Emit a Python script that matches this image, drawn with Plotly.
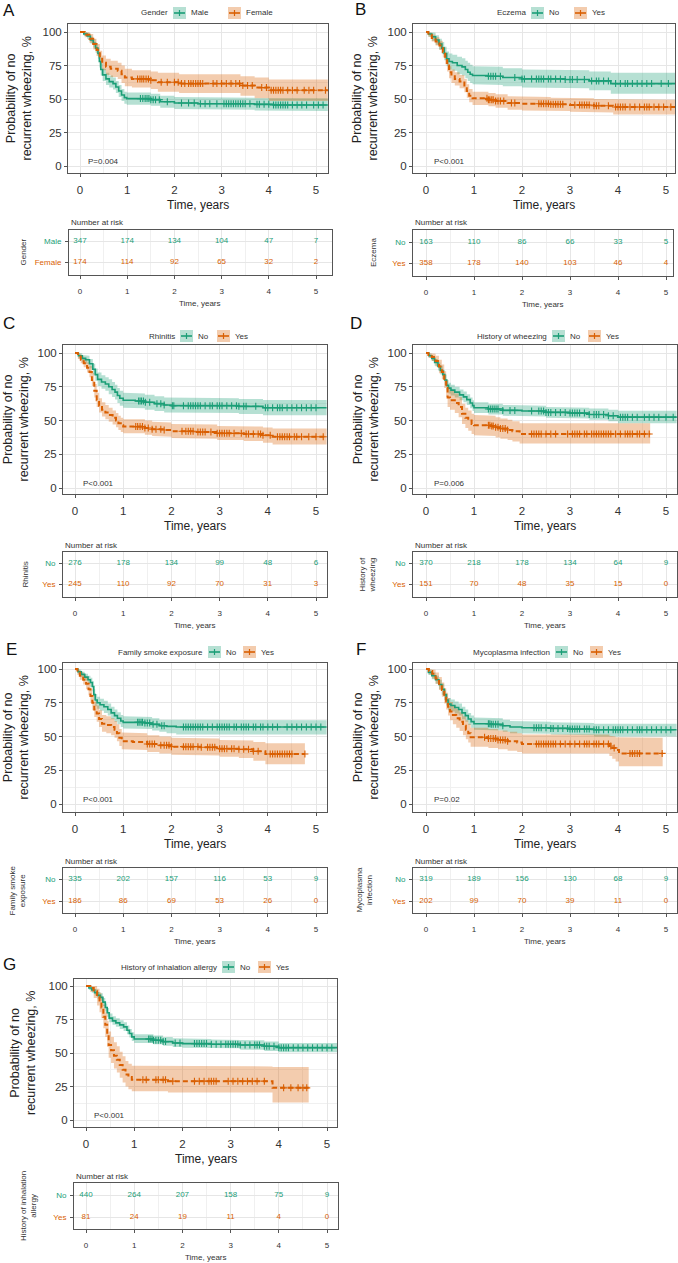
import plotly.graph_objects as go

# ======================= DATA =======================
TIME_TICKS = [0, 1, 2, 3, 4, 5]
SURV_TICKS = [0, 25, 50, 75, 100]

# ---- A: Gender ----
A_var = "Gender"; A_labels = ["Male", "Female"]; A_p = "P=0.004"
A_g1_t = [0, 0.08, 0.15, 0.22, 0.28, 0.33, 0.38, 0.41, 0.44, 0.48, 0.55, 0.62, 0.7, 0.76, 0.82, 0.88, 0.94, 0.99, 1.5, 1.7, 2.0, 2.5, 3.7, 4.1]
A_g1_s = [100, 98.5, 97, 94, 91.5, 88, 84, 78, 72, 68, 65, 63, 61.5, 59, 56, 53, 51, 50.3, 49.5, 48, 47, 46.5, 46, 45.5]
A_g1_lo = [100, 97, 95, 91.5, 88.5, 84.5, 80, 73.5, 67.5, 63.5, 60.5, 58.5, 57, 54.5, 51.5, 48.5, 46.5, 45.8, 45, 43.5, 42.5, 42, 41.5, 41]
A_g1_hi = [100, 99.8, 99, 96.5, 94.5, 91.5, 88, 82.5, 76.5, 72.5, 69.5, 67.5, 66, 63.5, 60.5, 57.5, 55.5, 54.8, 54, 52.5, 51.5, 51, 50.8, 50.5]
A_g1_end = 5.25
A_g1_cens = [1.28, 1.33, 1.38, 1.42, 1.46, 1.5, 1.55, 1.6, 1.68, 1.85, 2.15, 2.3, 2.42, 2.55, 2.65, 2.75, 2.9, 3.05, 3.1, 3.15, 3.2, 3.25, 3.3, 3.35, 3.4, 3.45, 3.5, 3.6, 3.75, 3.8, 3.9, 4.0, 4.1, 4.15, 4.2, 4.25, 4.3, 4.35, 4.4, 4.5, 4.6, 4.7, 4.8, 4.95, 5.05, 5.15]
A_g2_t = [0, 0.1, 0.2, 0.28, 0.35, 0.42, 0.47, 0.55, 0.65, 0.8, 0.88, 0.95, 1.1, 1.5, 1.65, 2.1, 3.4, 3.7, 4.0]
A_g2_s = [100, 98, 95, 91, 86.5, 81, 77, 74, 72.5, 71, 68.5, 66, 65, 64, 62.5, 61.5, 60, 58.5, 56.5]
A_g2_lo = [100, 96, 92, 87, 82, 76, 71.5, 68, 66.5, 65, 62, 59.5, 58.5, 57.5, 55.5, 54.5, 52.5, 50.5, 48.5]
A_g2_hi = [100, 99.8, 98.5, 95, 91, 86, 82.5, 80, 78.5, 77, 75, 72.5, 71.5, 70.5, 69.5, 68.5, 67, 66, 64.5]
A_g2_end = 5.25
A_g2_cens = [1.22, 1.27, 1.31, 1.35, 1.4, 1.45, 1.5, 1.72, 1.85, 2.0, 2.08, 2.15, 2.22, 2.3, 2.35, 2.4, 2.45, 2.5, 2.55, 2.6, 2.82, 2.9, 3.0, 3.1, 3.2, 3.3, 3.38, 3.45, 3.55, 3.65, 3.85, 3.95, 4.05, 4.1, 4.15, 4.2, 4.25, 4.3, 4.4, 4.5, 4.6, 4.75, 4.85, 4.95, 5.2]
A_risk1 = [347, 174, 134, 104, 47, 7]
A_risk2 = [174, 114, 92, 65, 32, 2]

# ---- B: Eczema ----
B_var = "Eczema"; B_labels = ["No", "Yes"]; B_p = "P<0.001"
B_g1_t = [0, 0.05, 0.12, 0.2, 0.27, 0.33, 0.38, 0.43, 0.48, 0.55, 0.65, 0.75, 0.82, 0.87, 0.92, 0.97, 1.3, 1.6, 2.0, 2.9, 3.4, 3.85]
B_g1_s = [100, 98.5, 96.5, 94, 91, 88, 84, 80, 78, 77, 75, 74, 72, 70, 68.5, 67.5, 67, 66, 65, 64.5, 63.5, 61.5]
B_g1_lo = [100, 96.5, 93.5, 90.5, 87, 83.5, 79, 74.5, 72, 71, 68.5, 67.5, 65.5, 63.5, 62, 61, 60.5, 59.5, 58.5, 58, 56.5, 54]
B_g1_hi = [100, 100, 99.5, 97.5, 95, 92.5, 89, 85.5, 84, 83, 81.5, 80.5, 78.5, 77, 75.5, 74.5, 74, 73, 72, 71.5, 70.5, 69.5]
B_g1_end = 5.19
B_g1_cens = [1.3, 1.35, 1.4, 1.45, 1.55, 1.85, 2.0, 2.05, 2.2, 2.3, 2.35, 2.4, 2.45, 2.55, 2.6, 2.7, 2.8, 2.9, 3.0, 3.05, 3.15, 3.3, 3.45, 3.55, 3.6, 3.7, 3.8, 3.95, 4.05, 4.15, 4.2, 4.3, 4.4, 4.5, 4.6, 4.7, 4.9, 5.05]
B_g2_t = [0, 0.05, 0.12, 0.2, 0.28, 0.35, 0.4, 0.44, 0.48, 0.53, 0.6, 0.7, 0.8, 0.85, 0.9, 0.97, 1.3, 1.45, 1.7, 2.0, 2.6, 3.0, 3.5, 3.9]
B_g2_s = [100, 98, 95.5, 93, 90, 85, 80, 75, 70, 67, 65, 63, 60, 56, 52.5, 50.5, 49.5, 48.5, 47, 46.5, 46, 45.5, 45, 44]
B_g2_lo = [100, 96.5, 93, 90, 86.5, 81, 76, 70.5, 65.5, 62, 60, 58, 55, 51, 47.5, 45.5, 44.5, 43.5, 42, 41.5, 41, 40.5, 40, 38.5]
B_g2_hi = [100, 99.5, 98, 96, 93.5, 89, 84.5, 79.5, 74.5, 72, 70, 68, 65, 61, 57.5, 55.5, 54.5, 53.5, 52, 51.5, 51, 50.5, 50, 49.5]
B_g2_end = 5.19
B_g2_cens = [1.27, 1.3, 1.33, 1.37, 1.4, 1.45, 1.5, 1.55, 1.62, 1.78, 1.85, 2.35, 2.4, 2.45, 2.5, 2.55, 2.6, 2.65, 2.7, 2.75, 2.8, 2.85, 3.1, 3.2, 3.25, 3.3, 3.35, 3.4, 3.5, 3.55, 3.6, 3.8, 3.95, 4.0, 4.05, 4.1, 4.15, 4.25, 4.35, 4.45, 4.55, 4.6, 4.65, 4.75, 4.85, 4.95, 5.1]
B_risk1 = [163, 110, 86, 66, 33, 5]
B_risk2 = [358, 178, 140, 103, 46, 4]

# ---- C: Rhinitis ----
C_var = "Rhinitis"; C_labels = ["No", "Yes"]; C_p = "P<0.001"
C_g1_t = [0, 0.07, 0.15, 0.22, 0.3, 0.37, 0.42, 0.47, 0.55, 0.63, 0.7, 0.77, 0.83, 0.88, 0.93, 1.0, 1.25, 1.45, 1.65, 1.85, 2.0, 3.4, 3.9]
C_g1_s = [100, 98, 96, 95, 92, 88, 84, 80.5, 78.5, 77, 75, 73, 71, 68.5, 66.5, 65, 64.5, 63.5, 62.5, 61.5, 61, 60.5, 59.5]
C_g1_lo = [100, 96, 93.5, 92, 88.5, 84, 79.5, 75.5, 73.5, 72, 69.5, 67.5, 65.5, 63, 61, 59.5, 59, 58, 57, 56, 55.5, 54.8, 53.8]
C_g1_hi = [100, 99.8, 98.5, 98, 95.5, 92, 88.5, 85.5, 83.5, 82, 80.5, 78.5, 76.5, 74, 72, 70.5, 70, 69, 68, 67, 66.5, 66, 65.2]
C_g1_end = 5.22
C_g1_cens = [1.32, 1.35, 1.38, 1.42, 1.46, 1.55, 1.7, 1.78, 1.85, 2.02, 2.05, 2.25, 2.35, 2.4, 2.45, 2.5, 2.55, 2.6, 2.7, 2.8, 2.85, 2.95, 3.0, 3.05, 3.15, 3.25, 3.35, 3.4, 3.5, 3.55, 3.75, 3.95, 4.0, 4.1, 4.2, 4.25, 4.3, 4.4, 4.5, 4.6, 4.7, 4.8, 4.9, 5.0]
C_g2_t = [0, 0.06, 0.12, 0.18, 0.25, 0.3, 0.35, 0.4, 0.45, 0.5, 0.56, 0.63, 0.7, 0.78, 0.85, 0.9, 0.95, 1.0, 1.45, 1.6, 1.85, 2.0, 2.5, 2.95, 3.5, 3.9, 4.1]
C_g2_s = [100, 97.5, 95, 92.5, 89, 86, 80, 72, 65, 61, 58, 56, 54, 52, 50, 48, 46.5, 45.5, 44.5, 43.5, 43, 42, 41.5, 40.5, 40, 39, 38]
C_g2_lo = [100, 95.5, 92.5, 89.5, 85.5, 82, 75.5, 67, 60, 56, 53, 51, 49, 47, 45, 43, 41.5, 40.5, 39.5, 38.5, 38, 37, 36.5, 35.5, 34.8, 33.5, 32.3]
C_g2_hi = [100, 99.5, 98, 96, 93, 90.5, 85, 77, 70.5, 66.5, 63.5, 61.5, 59.5, 57.5, 55.5, 53.5, 52, 51, 50, 49, 48.5, 47.5, 47, 46, 45.5, 44.8, 44]
C_g2_end = 5.22
C_g2_cens = [1.26, 1.3, 1.35, 1.4, 1.45, 1.52, 1.6, 1.68, 1.78, 1.85, 2.22, 2.3, 2.35, 2.4, 2.45, 2.55, 2.6, 2.65, 2.7, 2.82, 2.95, 3.0, 3.05, 3.1, 3.15, 3.2, 3.3, 3.45, 3.55, 3.6, 3.7, 3.8, 3.85, 3.9, 4.05, 4.2, 4.25, 4.3, 4.35, 4.4, 4.45, 4.55, 4.6, 4.7, 4.85, 5.0, 5.15]
C_risk1 = [276, 178, 134, 99, 48, 6]
C_risk2 = [245, 110, 92, 70, 31, 3]

# ---- D: History of wheezing ----
D_var = "History of wheezing"; D_labels = ["No", "Yes"]; D_p = "P=0.006"
D_g1_t = [0, 0.06, 0.12, 0.18, 0.25, 0.3, 0.35, 0.39, 0.43, 0.47, 0.52, 0.6, 0.7, 0.78, 0.85, 0.92, 0.97, 1.0, 1.3, 1.6, 2.0, 2.5, 3.0, 3.4, 3.8, 4.0]
D_g1_s = [100, 98, 96, 93, 90, 87, 84, 80, 76, 74, 72.5, 71, 69, 67.5, 65.5, 63, 61, 59.5, 58.5, 57.5, 57, 56, 55.5, 54.5, 53.5, 52.5]
D_g1_lo = [100, 96.5, 94, 90.5, 87, 84, 80.5, 76.5, 72.5, 70, 68.5, 67, 65, 63.5, 61.5, 59, 57, 55.5, 54.5, 53.5, 53, 52, 51.5, 50.5, 49.5, 48]
D_g1_hi = [100, 99.5, 98, 95.5, 93, 90.5, 87.5, 84, 80, 78, 76.5, 75, 73, 71.5, 69.5, 67, 65, 63.5, 62.5, 61.5, 61, 60, 59.5, 58.8, 58, 57.2]
D_g1_end = 5.22
D_g1_cens = [1.3, 1.34, 1.38, 1.42, 1.46, 1.5, 1.6, 1.75, 1.85, 2.2, 2.35, 2.4, 2.45, 2.5, 2.55, 2.6, 2.7, 2.8, 2.9, 3.0, 3.05, 3.1, 3.15, 3.2, 3.3, 3.4, 3.5, 3.55, 3.6, 3.7, 3.8, 3.9, 4.05, 4.1, 4.15, 4.2, 4.3, 4.4, 4.55, 4.65, 4.75, 4.85, 5.0, 5.15]
D_g2_t = [0, 0.05, 0.12, 0.2, 0.27, 0.33, 0.38, 0.42, 0.45, 0.5, 0.6, 0.68, 0.75, 0.82, 0.88, 0.95, 1.0, 1.35, 1.45, 1.55, 1.7, 1.8, 1.95]
D_g2_s = [100, 98.5, 97, 94, 90, 86, 80, 74, 67, 65, 63, 60, 55, 52, 50, 47.5, 46.5, 46, 45, 44, 43, 42, 40]
D_g2_lo = [100, 96.5, 94, 90, 85, 80.5, 74, 67.5, 60, 58, 55.5, 52.5, 47.5, 44.5, 42.5, 40, 39, 38.5, 37.5, 36.5, 35.5, 34.5, 33]
D_g2_hi = [100, 100, 99.5, 98, 95, 91.5, 86.5, 80.5, 74, 72, 70, 67.5, 62.5, 59.5, 57.5, 55, 54, 53.5, 52.5, 51.5, 50.5, 49.5, 48]
D_g2_end = 4.67
D_g2_cens = [1.3, 1.33, 1.37, 1.4, 1.45, 1.5, 1.55, 1.6, 1.65, 1.7, 2.2, 2.25, 2.3, 2.35, 2.4, 2.5, 2.6, 2.7, 2.95, 3.05, 3.1, 3.15, 3.2, 3.3, 3.35, 3.45, 3.5, 3.55, 3.6, 3.65, 3.7, 3.75, 3.8, 3.85, 3.95, 4.05, 4.15, 4.2, 4.25, 4.3, 4.4, 4.45, 4.55, 4.65]
D_risk1 = [370, 218, 178, 134, 64, 9]
D_risk2 = [151, 70, 48, 35, 15, 0]

# ---- E: Family smoke exposure ----
E_var = "Family smoke exposure"; E_labels = ["No", "Yes"]; E_p = "P<0.001"
E_g1_t = [0, 0.06, 0.13, 0.2, 0.27, 0.32, 0.36, 0.39, 0.42, 0.46, 0.52, 0.6, 0.68, 0.75, 0.82, 0.88, 0.95, 1.0, 1.45, 1.6, 1.75, 1.9, 2.1]
E_g1_s = [100, 98, 96, 94, 92, 90, 87, 81, 77, 75, 73.5, 72, 70, 67.5, 65.5, 63.5, 61.5, 60.5, 60, 59, 58, 57.5, 57]
E_g1_lo = [100, 96.5, 94, 91.5, 89, 86.5, 83.5, 77, 72.5, 70.5, 69, 67.5, 65.5, 63, 61, 59, 57, 56, 55.5, 54.5, 53.5, 52.5, 51.5]
E_g1_hi = [100, 99.5, 98, 96.5, 95, 93.5, 91, 85, 81.5, 79.5, 78, 76.5, 74.5, 72, 70, 68, 66, 65, 64.5, 63.5, 62.5, 62, 62]
E_g1_end = 5.22
E_g1_cens = [1.3, 1.33, 1.37, 1.4, 1.45, 1.5, 1.55, 1.62, 1.7, 1.8, 1.85, 2.25, 2.3, 2.35, 2.4, 2.45, 2.5, 2.55, 2.6, 2.65, 2.75, 2.85, 2.95, 3.0, 3.05, 3.1, 3.15, 3.2, 3.3, 3.35, 3.45, 3.5, 3.55, 3.6, 3.7, 3.75, 3.85, 3.9, 4.0, 4.1, 4.2, 4.4, 4.5, 4.6, 4.7, 4.8, 4.9, 5.0, 5.1]
E_g2_t = [0, 0.05, 0.1, 0.17, 0.23, 0.28, 0.32, 0.36, 0.4, 0.45, 0.5, 0.56, 0.65, 0.75, 0.82, 0.87, 0.92, 0.97, 1.2, 1.5, 1.75, 2.0, 2.6, 3.0, 3.4, 3.7, 3.95]
E_g2_s = [100, 97.5, 95, 92, 89, 85, 80, 75, 70, 67, 63, 59.5, 58.5, 57, 55, 52.5, 49, 46.5, 46, 44.5, 43.5, 42.5, 42, 41, 40.5, 39, 37]
E_g2_lo = [100, 95.5, 92, 88.5, 85, 80.5, 75, 69.5, 64.5, 61, 57, 53.5, 52.5, 51, 49, 46.5, 43, 40.5, 40, 38.5, 37.5, 36.5, 36, 35, 34, 32, 29.5]
E_g2_hi = [100, 99.5, 98, 96, 93.5, 90, 85.5, 81, 76, 73, 69.5, 66, 65, 63.5, 61.5, 59, 55.5, 53, 52.5, 51, 50, 49, 48.5, 47.5, 47, 46, 45]
E_g2_end = 4.77
E_g2_cens = [1.5, 1.55, 1.6, 1.65, 1.78, 1.85, 1.9, 1.95, 2.0, 2.25, 2.3, 2.35, 2.4, 2.45, 2.55, 2.62, 2.75, 2.8, 2.85, 2.9, 3.0, 3.05, 3.1, 3.15, 3.25, 3.3, 3.4, 3.5, 3.6, 3.7, 3.8, 4.05, 4.1, 4.15, 4.2, 4.25, 4.3, 4.35, 4.4, 4.45, 4.5, 4.77]
E_risk1 = [335, 202, 157, 116, 53, 9]
E_risk2 = [186, 86, 69, 53, 26, 0]

# ---- F: Mycoplasma infection ----
F_var = "Mycoplasma infection"; F_labels = ["No", "Yes"]; F_p = "P=0.02"
F_g1_t = [0, 0.05, 0.12, 0.2, 0.27, 0.33, 0.38, 0.42, 0.46, 0.52, 0.6, 0.68, 0.75, 0.82, 0.88, 0.94, 1.0, 1.35, 1.6, 1.75, 2.0, 2.6, 3.0, 3.5]
F_g1_s = [100, 97.5, 95, 92, 88.5, 85, 81, 77, 74, 73, 71.5, 70, 67.5, 65.5, 63, 61, 59.5, 59, 58, 57, 56.5, 56, 55.5, 55]
F_g1_lo = [100, 95.5, 92.5, 89, 85, 81, 77, 73, 69.5, 68.5, 67, 65.5, 63, 61, 58.5, 56.5, 55, 54.5, 53.5, 52.5, 52, 51.5, 51, 50]
F_g1_hi = [100, 99.5, 97.5, 95, 92, 89, 85, 81.5, 78.5, 77.5, 76, 74.5, 72, 70, 67.5, 65.5, 64, 63.5, 62.5, 61.5, 61, 60.5, 60, 59.5]
F_g1_end = 5.22
F_g1_cens = [1.3, 1.33, 1.36, 1.4, 1.45, 1.5, 1.6, 2.25, 2.3, 2.35, 2.4, 2.5, 2.6, 2.65, 2.75, 2.85, 2.95, 3.0, 3.05, 3.1, 3.15, 3.2, 3.3, 3.35, 3.4, 3.5, 3.55, 3.6, 3.7, 3.8, 3.9, 3.95, 4.0, 4.05, 4.1, 4.2, 4.3, 4.4, 4.45, 4.5, 4.6, 4.7, 4.8, 4.9, 5.0, 5.1]
F_g2_t = [0, 0.06, 0.13, 0.2, 0.27, 0.33, 0.38, 0.42, 0.46, 0.5, 0.56, 0.63, 0.7, 0.77, 0.83, 0.88, 0.93, 1.3, 1.5, 1.7, 1.9, 2.0, 3.82, 3.88, 3.95, 4.02]
F_g2_s = [100, 98.5, 96.5, 93, 89, 84.5, 80, 76, 72, 68.5, 66, 63.5, 61, 58, 55, 52.5, 49.5, 48.5, 47.5, 46.5, 45.5, 44.5, 43, 41.5, 40, 37.5]
F_g2_lo = [100, 96, 93, 89, 84.5, 79.5, 74.5, 70, 65.5, 62, 59, 56.5, 54, 51, 48, 45.5, 42.5, 41.5, 40.5, 39.5, 38.5, 37.5, 35.5, 33.5, 31.5, 28]
F_g2_hi = [100, 100, 99.5, 97.5, 94, 90, 86, 82.5, 78.5, 75.5, 73, 70.5, 68, 65, 62, 59.5, 56.5, 55.5, 54.5, 53.5, 52.5, 51.5, 50.5, 50, 49.5, 49]
F_g2_end = 4.93
F_g2_cens = [1.22, 1.3, 1.35, 1.4, 1.45, 1.5, 1.55, 1.6, 1.65, 1.7, 2.3, 2.35, 2.4, 2.45, 2.5, 2.55, 2.6, 2.65, 2.7, 2.8, 2.9, 3.0, 3.1, 3.2, 3.3, 3.35, 3.4, 3.5, 3.55, 3.6, 3.7, 3.8, 3.85, 3.92, 4.25, 4.3, 4.35, 4.4, 4.45, 4.92]
F_risk1 = [319, 189, 156, 130, 68, 9]
F_risk2 = [202, 99, 70, 39, 11, 0]

# ---- G: History of inhalation allergy ----
G_var = "History of inhalation allergy"; G_labels = ["No", "Yes"]; G_p = "P<0.001"
G_g1_t = [0, 0.06, 0.12, 0.18, 0.24, 0.3, 0.35, 0.4, 0.44, 0.48, 0.55, 0.62, 0.7, 0.78, 0.85, 0.9, 0.95, 1.0, 1.4, 1.6, 1.8, 2.0, 2.6, 3.2, 3.7, 4.0]
G_g1_s = [100, 98.5, 97, 95, 93, 91.5, 88, 84, 80, 76, 74, 72.5, 71, 69.5, 67, 64.5, 62, 60.5, 59.5, 58.5, 57.5, 57, 56.5, 56, 55, 54]
G_g1_lo = [100, 97, 95, 93, 90.5, 89, 85, 81, 77, 73, 71, 69.5, 68, 66.5, 64, 61.5, 59, 57.5, 56.5, 55.5, 54.5, 54, 53.5, 52.5, 51.5, 50.5]
G_g1_hi = [100, 100, 99, 97.5, 95.5, 94.5, 91, 87, 83.5, 79.5, 77.5, 76, 74.5, 73, 70.5, 68, 65.5, 64, 63, 62, 61, 60.5, 60, 59.5, 58.5, 57.5]
G_g1_end = 5.21
G_g1_cens = [1.3, 1.33, 1.37, 1.4, 1.45, 1.5, 1.55, 1.6, 1.65, 1.85, 1.95, 2.25, 2.3, 2.35, 2.4, 2.45, 2.5, 2.6, 2.7, 2.8, 2.9, 2.95, 3.0, 3.05, 3.1, 3.15, 3.2, 3.3, 3.4, 3.5, 3.55, 3.6, 3.7, 3.75, 3.8, 3.9, 4.0, 4.05, 4.1, 4.15, 4.2, 4.3, 4.4, 4.5, 4.6, 4.7, 4.8, 4.9, 5.0, 5.1]
G_g2_t = [0, 0.09, 0.16, 0.23, 0.28, 0.32, 0.36, 0.4, 0.44, 0.47, 0.52, 0.58, 0.64, 0.7, 0.76, 0.82, 0.88, 0.95, 1.7, 3.87]
G_g2_s = [100, 98.5, 96, 92, 88, 84, 77, 71, 64, 56, 52, 48, 45, 41, 37.5, 34, 32, 30, 29, 24]
G_g2_lo = [100, 95.5, 91, 85.5, 80.5, 76, 68.5, 62, 54.5, 46.5, 42.5, 38.5, 35.5, 31.5, 28, 25, 23, 21.5, 20.5, 13]
G_g2_hi = [100, 100, 100, 98, 95, 92, 86, 80.5, 74, 66, 62, 58, 55, 51, 47.5, 44, 42, 40.5, 40, 39.5]
G_g2_end = 4.62
G_g2_cens = [1.18, 1.25, 1.45, 1.5, 1.6, 1.65, 1.8, 2.25, 2.35, 2.45, 2.55, 2.6, 2.65, 2.7, 2.95, 3.05, 3.15, 3.25, 3.35, 3.45, 3.55, 3.7, 4.1, 4.25, 4.4, 4.5, 4.58]
G_risk1 = [440, 264, 207, 158, 75, 9]
G_risk2 = [81, 24, 19, 11, 4, 0]

# risk table y-axis titles
A_rtitle = "Gender"; B_rtitle = "Eczema"; C_rtitle = "Rhinitis"
D_rtitle = "History of<br>wheezing"; E_rtitle = "Family smoke<br>exposure"
F_rtitle = "Mycoplasma<br>infection"; G_rtitle = "History of inhalation<br>allergy"

# ======================= STYLE / LAYOUT =======================
W, H = 678, 1263
GREEN, ORANGE = "#1B9E77", "#D95F02"
FILLS = ["rgba(27,158,119,0.32)", "rgba(217,95,2,0.32)"]
COLS = [GREEN, ORANGE]
FONT = "Liberation Sans, Arial, Helvetica, sans-serif"
TXT = "#333333"
FRAME = "#555555"
GRID = "#E6E6E6"
GRID_MINOR = "#F0F0F0"

# pixel geometry of each panel (layout only)
GEO = {
    "A": dict(L=68, R=328, T=24, B=173, x0=80, x5=316, y100=32, y0=166,
              rL=69, rR=332, rT=230, rB=275, r1=241, r2=262,
              letter=(9, 11), leg=(13, 173, 228), ytx=19, rytx=23),
    "B": dict(L=413, R=675, T=24, B=173, x0=426, x5=666, y100=32, y0=166,
              rL=413, rR=673, rT=230, rB=276, r1=242, r2=263,
              letter=(360, 10), leg=(13, 531, 574), ytx=365, rytx=373),
    "C": dict(L=63, R=327, T=345, B=494, x0=75, x5=316, y100=353, y0=488,
              rL=63, rR=327, rT=552, rB=597, r1=563, r2=584,
              letter=(9, 323), leg=(336, 180, 217), ytx=15, rytx=25),
    "D": dict(L=413, R=677, T=345, B=494, x0=426, x5=666, y100=353, y0=488,
              rL=413, rR=677, rT=552, rB=597, r1=563, r2=584,
              letter=(356, 323), leg=(336, 552, 588), ytx=365, rytx=367),
    "E": dict(L=63, R=327, T=663, B=812, x0=75, x5=316, y100=669, y0=804,
              rL=63, rR=327, rT=868, rB=913, r1=879, r2=901,
              letter=(11, 649), leg=(652, 208, 243), ytx=15, rytx=17),
    "F": dict(L=413, R=677, T=663, B=812, x0=426, x5=666, y100=669, y0=804,
              rL=413, rR=677, rT=868, rB=913, r1=879, r2=901,
              letter=(361, 649), leg=(652, 555, 590), ytx=365, rytx=364),
    "G": dict(L=74, R=337, T=979, B=1127, x0=86, x5=327, y100=986, y0=1120,
              rL=74, rR=338, rT=1183, rB=1229, r1=1195, r2=1217,
              letter=(9, 965), leg=(967, 222, 258), ytx=23, rytx=28),
}

G_ = globals()
PANELS = []
for key in "ABCDEFG":
    PANELS.append(dict(
        key=key, var=G_[key + "_var"], labels=G_[key + "_labels"], p=G_[key + "_p"],
        groups=[dict(t=G_[f"{key}_g{i}_t"], s=G_[f"{key}_g{i}_s"], lo=G_[f"{key}_g{i}_lo"],
                     hi=G_[f"{key}_g{i}_hi"], end=G_[f"{key}_g{i}_end"],
                     cens=G_[f"{key}_g{i}_cens"]) for i in (1, 2)],
        risk=[G_[key + "_risk1"], G_[key + "_risk2"]],
        rtitle=G_[key + "_rtitle"], geo=GEO[key]))


def px(x):
    return x / W


def py(y):
    return 1 - y / H


def stairs(t, v, end):
    xs, ys = [], []
    for i in range(len(t)):
        t1 = t[i + 1] if i + 1 < len(t) else end
        xs += [t[i], t1]
        ys += [v[i], v[i]]
    return xs, ys


def step_at(t, v, x):
    val = v[0]
    for ti, vi in zip(t, v):
        if ti <= x:
            val = vi
    return val


fig = go.Figure()
layout = {}
annotations = []
shapes = []


def axis_common():
    return dict(showline=True, mirror=True, linecolor=FRAME, linewidth=1,
                ticks="outside", ticklen=3, tickcolor=FRAME, tickwidth=1,
                zeroline=False, showgrid=True, gridcolor=GRID, gridwidth=1)


ax = 0
for P in PANELS:
    g = P["geo"]
    # ---------- main KM axis ----------
    ax += 1
    xn, yn = ("x", "y") if ax == 1 else (f"x{ax}", f"y{ax}")
    k = (g["x5"] - g["x0"]) / 5.0
    m = (g["y0"] - g["y100"]) / 100.0
    xr = [(g["L"] - g["x0"]) / k, (g["R"] - g["x0"]) / k]
    yr = [-(g["B"] - g["y0"]) / m, 100 + (g["y100"] - g["T"]) / m]
    xa = axis_common()
    xa.update(domain=[px(g["L"]), px(g["R"])], range=xr, anchor=yn,
              tickvals=TIME_TICKS, tickfont=dict(size=11.5, color=TXT, family=FONT),
              ticklabelstandoff=3,
              minor=dict(showgrid=True, gridcolor=GRID_MINOR, dtick=0.5, tick0=0, ticks=""))
    ya = axis_common()
    ya.update(domain=[py(g["B"]), py(g["T"])], range=yr, anchor=xn,
              tickvals=SURV_TICKS, tickfont=dict(size=11.5, color=TXT, family=FONT),
              minor=dict(showgrid=True, gridcolor=GRID_MINOR, dtick=12.5, tick0=0, ticks=""))
    layout["xaxis" if ax == 1 else f"xaxis{ax}"] = xa
    layout["yaxis" if ax == 1 else f"yaxis{ax}"] = ya

    # CI bands
    for gi, grp in enumerate(P["groups"]):
        ux, uy = stairs(grp["t"], grp["hi"], grp["end"])
        lx, ly = stairs(grp["t"], grp["lo"], grp["end"])
        fig.add_trace(go.Scatter(x=ux + lx[::-1], y=uy + ly[::-1], mode="lines",
                                 fill="toself", fillcolor=FILLS[gi], line=dict(width=0),
                                 xaxis=xn, yaxis=yn, showlegend=False, hoverinfo="skip"))
    # survival curves
    for gi, grp in enumerate(P["groups"]):
        fig.add_trace(go.Scatter(x=grp["t"] + [grp["end"]], y=grp["s"] + [grp["s"][-1]],
                                 mode="lines", line=dict(color=COLS[gi], width=1.6 if gi == 0 else 2.0,
                                                         shape="hv", dash="solid" if gi == 0 else "5px,3px"),
                                 xaxis=xn, yaxis=yn, showlegend=False, hoverinfo="skip"))
    # censor marks
    for gi, grp in enumerate(P["groups"]):
        cy = [step_at(grp["t"], grp["s"], c) for c in grp["cens"]]
        fig.add_trace(go.Scatter(x=grp["cens"], y=cy, mode="markers",
                                 marker=dict(symbol="cross-thin", size=5,
                                             line=dict(color=COLS[gi], width=1.1)),
                                 xaxis=xn, yaxis=yn, showlegend=False, hoverinfo="skip"))
    # p-value
    annotations.append(dict(x=0.12, y=3, xref=xn, yref=yn, text=P["p"], showarrow=False,
                            xanchor="left", yanchor="middle",
                            font=dict(size=8, color=TXT, family=FONT)))
    # axis titles
    annotations.append(dict(x=px((g["L"] + g["R"]) / 2), y=py(g["B"] + 32), xref="paper", yref="paper",
                            text="Time, years", showarrow=False, xanchor="center", yanchor="middle",
                            font=dict(size=12, color="#222222", family=FONT)))
    annotations.append(dict(x=px(g["ytx"]), y=py((g["T"] + g["B"]) / 2), xref="paper", yref="paper",
                            text="Probability of no<br>recurrent wheezing, %", showarrow=False,
                            textangle=-90, xanchor="center", yanchor="middle",
                            font=dict(size=12.5, color="#222222", family=FONT)))
    # panel letter
    annotations.append(dict(x=px(g["letter"][0]), y=py(g["letter"][1]), xref="paper", yref="paper",
                            text=P["key"], showarrow=False, xanchor="center", yanchor="middle",
                            font=dict(size=17, color="#111111", family=FONT)))
    # legend
    ly0, k1, k2 = g["leg"]
    annotations.append(dict(x=px(k1 - 3), y=py(ly0), xref="paper", yref="paper", text=P["var"],
                            showarrow=False, xanchor="right", yanchor="middle",
                            font=dict(size=8, color=TXT, family=FONT)))
    for gi, kx in enumerate((k1, k2)):
        shapes.append(dict(type="rect", xref="paper", yref="paper", x0=px(kx), x1=px(kx + 13),
                           y0=py(ly0 + 6), y1=py(ly0 - 6), fillcolor=FILLS[gi], line=dict(width=0)))
        shapes.append(dict(type="line", xref="paper", yref="paper", x0=px(kx + 1), x1=px(kx + 12),
                           y0=py(ly0), y1=py(ly0), line=dict(color=COLS[gi], width=1.6)))
        shapes.append(dict(type="line", xref="paper", yref="paper", x0=px(kx + 6.5), x1=px(kx + 6.5),
                           y0=py(ly0 - 3), y1=py(ly0 + 3), line=dict(color=COLS[gi], width=1.2)))
        annotations.append(dict(x=px(kx + 16), y=py(ly0), xref="paper", yref="paper", text=P["labels"][gi],
                                showarrow=False, xanchor="left", yanchor="middle",
                                font=dict(size=8, color=TXT, family=FONT)))

    # ---------- risk table axis ----------
    ax += 1
    xn, yn = f"x{ax}", f"y{ax}"
    rk = (g["x5"] - g["x0"]) / 5.0
    rm = g["r2"] - g["r1"]
    rxr = [(g["rL"] - g["x0"]) / rk, (g["rR"] - g["x0"]) / rk]
    ryr = [1 - (g["rB"] - g["r2"]) / rm, 2 + (g["r1"] - g["rT"]) / rm]
    xa = axis_common()
    xa.update(domain=[px(g["rL"]), px(g["rR"])], range=rxr, anchor=yn,
              tickvals=TIME_TICKS, tickfont=dict(size=8, color=TXT, family=FONT),
              ticklabelstandoff=5,
              minor=dict(showgrid=True, gridcolor=GRID_MINOR, dtick=0.5, tick0=0, ticks=""))
    ya = axis_common()
    ya.update(domain=[py(g["rB"]), py(g["rT"])], range=ryr, anchor=xn, tickvals=[2, 1],
              ticktext=[f'<span style="color:{COLS[0]}">{P["labels"][0]}</span>',
                        f'<span style="color:{COLS[1]}">{P["labels"][1]}</span>'],
              tickfont=dict(size=8, family=FONT), ticklabelstandoff=2)
    layout[f"xaxis{ax}"] = xa
    layout[f"yaxis{ax}"] = ya
    for gi in range(2):
        fig.add_trace(go.Scatter(x=TIME_TICKS, y=[2 - gi] * len(TIME_TICKS), mode="text",
                                 text=[str(v) for v in P["risk"][gi]],
                                 textfont=dict(size=8, color=COLS[gi], family=FONT),
                                 textposition="middle center", xaxis=xn, yaxis=yn,
                                 showlegend=False, hoverinfo="skip"))
    annotations.append(dict(x=px(g["rL"]), y=py(g["rT"] - 7), xref="paper", yref="paper",
                            text="Number at risk", showarrow=False, xanchor="left", yanchor="middle",
                            font=dict(size=8, color=TXT, family=FONT)))
    annotations.append(dict(x=px((g["rL"] + g["rR"]) / 2), y=py(g["rB"] + 28), xref="paper", yref="paper",
                            text="Time, years", showarrow=False, xanchor="center", yanchor="middle",
                            font=dict(size=8, color=TXT, family=FONT)))
    annotations.append(dict(x=px(g["rytx"]), y=py((g["rT"] + g["rB"]) / 2), xref="paper", yref="paper",
                            text=P["rtitle"], showarrow=False, textangle=-90,
                            xanchor="center", yanchor="middle",
                            font=dict(size=8, color=TXT, family=FONT)))

fig.update_layout(width=W, height=H, margin=dict(l=0, r=0, t=0, b=0),
                  paper_bgcolor="white", plot_bgcolor="white",
                  font=dict(family=FONT, color=TXT), showlegend=False, hovermode=False,
                  annotations=annotations, shapes=shapes, **layout)
fig.write_html("out.html", config={"displayModeBar": False, "staticPlot": True})

# remove the browser's default page margin so the figure sits at (0, 0)
with open("out.html", "r", encoding="utf-8") as fh:
    html = fh.read()
html = html.replace("<head>", "<head><style>html,body{margin:0;padding:0;overflow:hidden;}</style>", 1)
with open("out.html", "w", encoding="utf-8") as fh:
    fh.write(html)
